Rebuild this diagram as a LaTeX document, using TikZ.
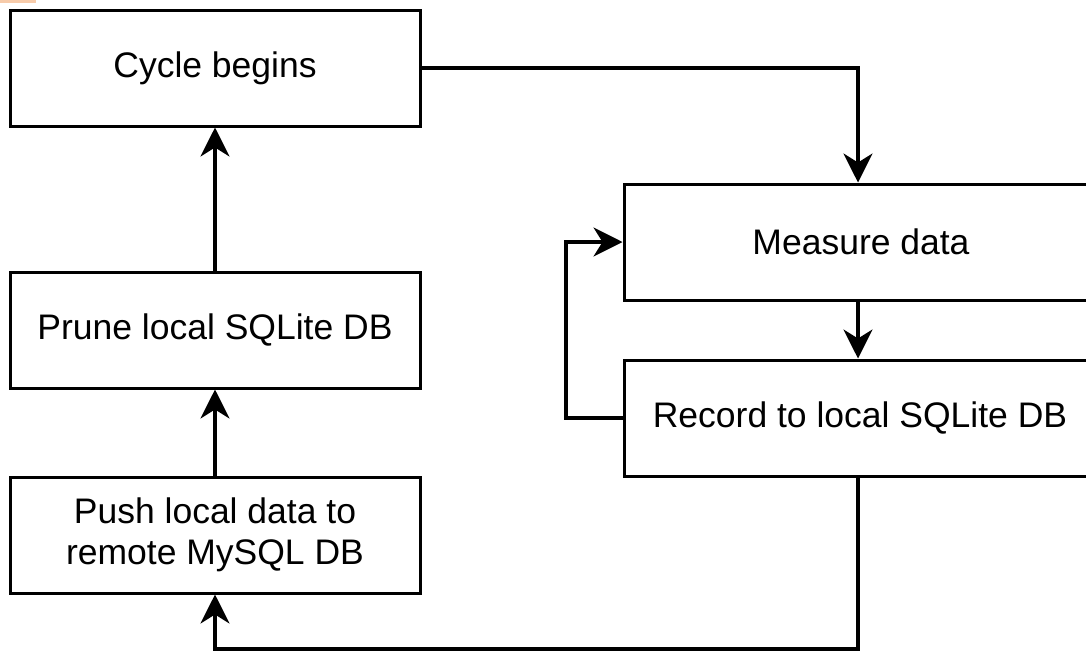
\documentclass[tikz,border=0pt]{standalone}
\usepackage{fontspec}
\setmainfont{Liberation Sans}
\usetikzlibrary{arrows.meta}
\definecolor{tabor}{HTML}{F7CBAA}
\tikzset{
  box/.style={draw=black, line width=3pt, fill=white, minimum height=116pt, inner sep=0pt,
              font=\fontsize{35.5}{41}\selectfont, align=center},
  lbox/.style={box, minimum width=410pt},
  rbox/.style={box, minimum width=468pt},
  conn/.style={draw=black, line width=3.05pt, -{Stealth[length=29pt,width=29pt,inset=9pt]}}
}
\begin{document}
\begin{tikzpicture}[x=1pt,y=-1pt]
\useasboundingbox (0,0) rectangle (1086,651);
\clip (0,0) rectangle (1086,651);
\fill[tabor] (0,0) rectangle (36,3);
\node[lbox] (cycle) at (215,68) {Cycle begins};
\node[lbox] (prune) at (215,330) {Prune local SQLite DB};
\node[lbox] (push) at (215,535) {Push local data to\\remote MySQL DB};
\node[rbox] (measure) at (858,242) {\hspace*{6pt}Measure data};
\node[rbox] (record) at (858,418) {\hspace*{4pt}Record to local SQLite DB};
\coordinate (c1) at (858,68);
\coordinate (loopL) at (566,418);
\coordinate (loopT) at (566,242);
\coordinate (b1) at (858,649);
\coordinate (b2) at (215,649);
\draw[conn] (cycle.east) -- (c1) -- (measure.north);
\draw[conn] (measure.south) -- (record.north);
\draw[conn] (record.west) -- (loopL) -- (loopT) -- (measure.west);
\draw[conn] (record.south) -- (b1) -- (b2) -- (push.south);
\draw[conn] (push.north) -- (prune.south);
\draw[conn] (prune.north) -- (cycle.south);
\end{tikzpicture}
\end{document}
